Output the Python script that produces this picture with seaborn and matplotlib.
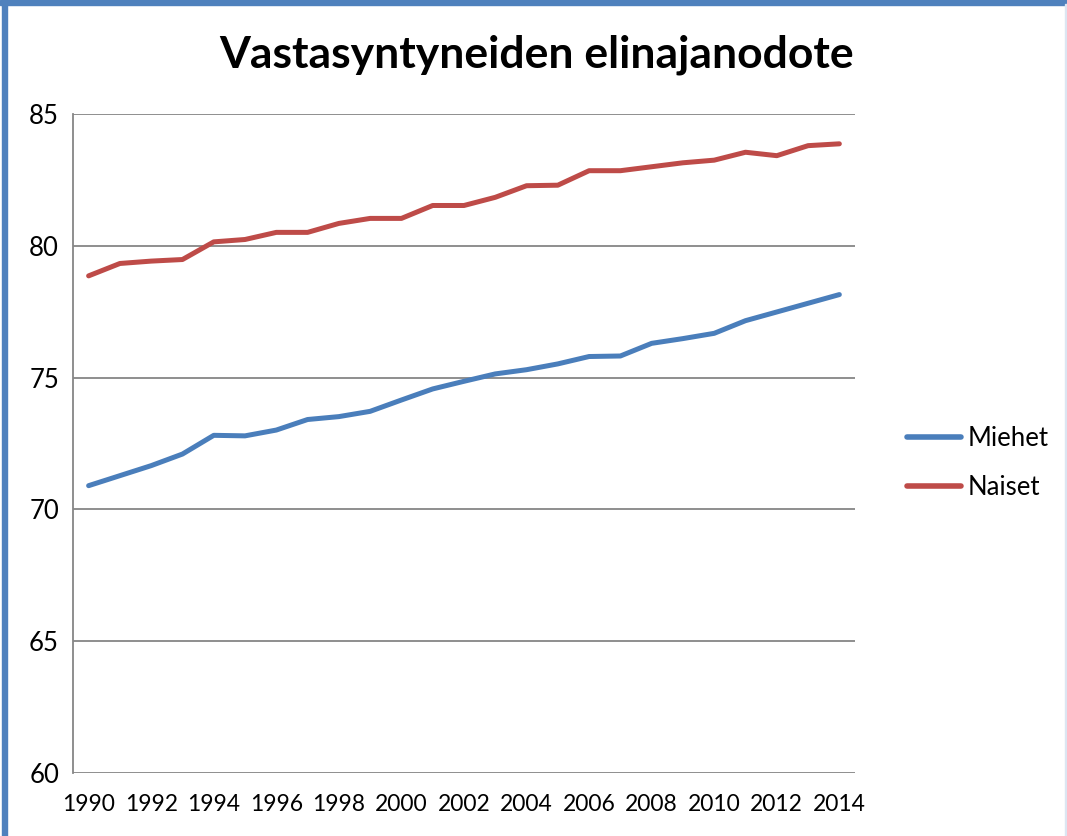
import pandas as pd
import numpy as np
import matplotlib.pyplot as plt
import seaborn as sns
from matplotlib.patches import Rectangle

# data
years = list(range(1990, 2015))
miehet = [70.90, 71.28, 71.66, 72.10, 72.81, 72.79, 73.01, 73.41, 73.52, 73.72,
          74.15, 74.57, 74.86, 75.14, 75.30, 75.52, 75.80, 75.82, 76.30, 76.48,
          76.68, 77.16, 77.49, 77.82, 78.15]
naiset = [78.86, 79.33, 79.42, 79.48, 80.15, 80.24, 80.51, 80.51, 80.85, 81.04,
          81.04, 81.53, 81.53, 81.84, 82.28, 82.30, 82.85, 82.85, 83.00, 83.15,
          83.25, 83.55, 83.42, 83.80, 83.87]
series_names = ['Miehet', 'Naiset']
y_ticks = [60, 65, 70, 75, 80, 85]
x_ticks = list(range(1990, 2015, 2))
title = 'Vastasyntyneiden elinajanodote'

df = pd.DataFrame({
    'vuosi': years * 2,
    'ika': miehet + naiset,
    'sarja': [series_names[0]] * len(years) + [series_names[1]] * len(years),
})

sns.set_style("white")
plt.rcParams['font.family'] = ['Lato', 'DejaVu Sans']

fig = plt.figure(figsize=(10.67, 8.36), dpi=100)
ax = fig.add_axes([0.0684, 0.0754, 0.7329, 0.7882])

palette = {'Miehet': '#4A7EBB', 'Naiset': '#BE4B48'}
sns.lineplot(data=df, x='vuosi', y='ika', hue='sarja', palette=palette,
             linewidth=3.6, ax=ax, solid_capstyle='round')

ax.set_xlim(1989.5, 2014.5)
ax.set_ylim(60, 85)
ax.set_yticks(y_ticks)
ax.set_xticks(x_ticks)
ax.set_xticklabels([str(x) for x in x_ticks])
ax.tick_params(axis='both', length=0, colors='black')
ax.tick_params(axis='y', labelsize=18.5, pad=10)
ax.tick_params(axis='x', labelsize=16.5, pad=15)
ax.yaxis.grid(True, color='#868686', linewidth=1.3)
ax.set_axisbelow(True)
for s in ['top', 'right', 'bottom']:
    ax.spines[s].set_visible(False)
ax.spines['left'].set_color('#868686')
ax.spines['left'].set_linewidth(1.3)
ax.set_xlabel('')
ax.set_ylabel('')

leg = ax.legend(loc='center left', bbox_to_anchor=(894 / 1067, 1 - 463 / 836),
                bbox_transform=fig.transFigure, frameon=False, borderpad=0,
                fontsize=18.5, handlelength=2.1, handletextpad=0.25,
                labelspacing=0.95)
for line in leg.get_lines():
    line.set_linewidth(4)
for t in leg.get_texts():
    t.set_color('black')

fig.text(0.503, 0.934, title, ha='center', va='center', fontsize=32,
         fontweight='bold', color='black')

# blue chart frame, as in the screenshot
fig.add_artist(Rectangle((0, 0.9945), 1, 0.0055, transform=fig.transFigure,
                         color='#4F81BD', zorder=10))
fig.add_artist(Rectangle((0.002, 0), 0.0045, 1, transform=fig.transFigure,
                         color='#4F81BD', zorder=10))
fig.add_artist(Rectangle((0.998, 0), 0.002, 0.995, transform=fig.transFigure,
                         color='#DCE6F2', zorder=10))

plt.savefig('out.png', dpi=100)
plt.close()
